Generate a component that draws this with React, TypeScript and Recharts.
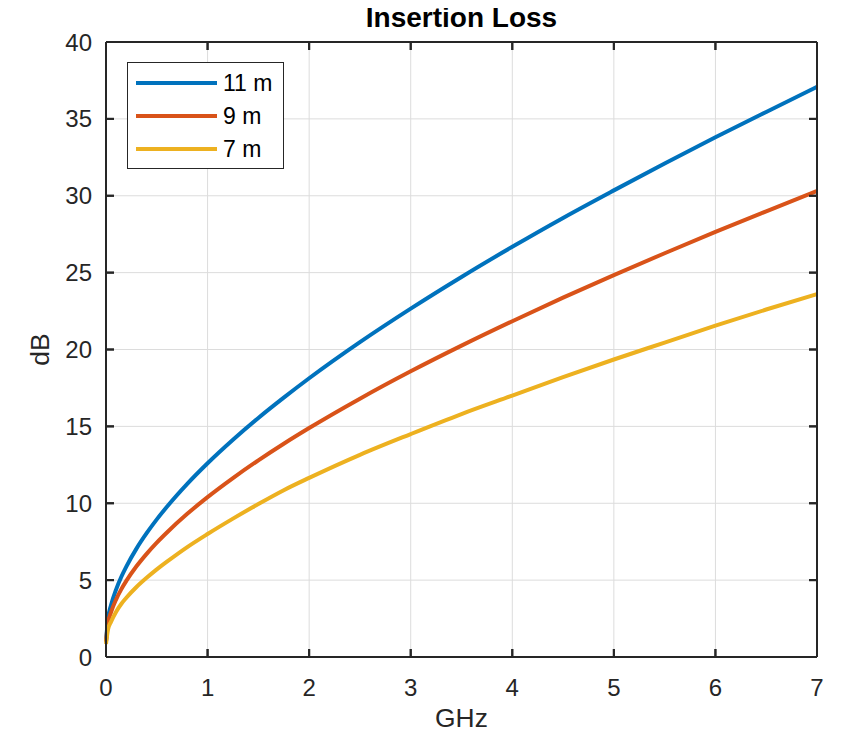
import React from 'react';
import { LineChart, Line, XAxis, YAxis, CartesianGrid, Legend, ReferenceLine } from 'recharts';

const freqGHz = [0, 0.02, 0.05, 0.1, 0.15, 0.2, 0.3, 0.4, 0.5, 0.6, 0.8, 1, 1.25, 1.5, 1.75, 2, 2.5, 3, 3.5, 4, 4.5, 5, 5.5, 6, 6.5, 7];
const loss11m = [1.0, 2.49, 3.38, 4.4, 5.2, 5.88, 7.05, 8.05, 8.95, 9.77, 11.26, 12.6, 14.13, 15.55, 16.87, 18.13, 20.48, 22.66, 24.72, 26.68, 28.56, 30.35, 32.1, 33.8, 35.45, 37.08];
const loss9m = [1.0, 2.21, 2.92, 3.75, 4.4, 4.95, 5.9, 6.71, 7.44, 8.1, 9.31, 10.4, 11.64, 12.79, 13.87, 14.89, 16.8, 18.58, 20.25, 21.84, 23.37, 24.84, 26.26, 27.65, 28.99, 30.31];
const loss7m = [0.85, 1.8, 2.3, 2.95, 3.45, 3.85, 4.55, 5.15, 5.7, 6.2, 7.15, 8.0, 9.0, 9.95, 10.85, 11.65, 13.15, 14.5, 15.8, 17.0, 18.2, 19.35, 20.45, 21.55, 22.6, 23.6];

const seriesNames = ['11 m', '9 m', '7 m'];
const seriesKeys = ['l11', 'l9', 'l7'];
const seriesColors = ['#0072BD', '#D95319', '#EDB120'];
const xTicks = [0, 1, 2, 3, 4, 5, 6, 7];
const yTicks = [0, 5, 10, 15, 20, 25, 30, 35, 40];
const xDomain = [0, 7];
const yDomain = [0, 40];

const data = freqGHz.map((f, i) => ({ f, l11: loss11m[i], l9: loss9m[i], l7: loss7m[i] }));

const AXIS = '#262626';
const FONT = '"Liberation Sans", Arial, Helvetica, sans-serif';

// layout
const CHART_W = 827;
const CHART_H = 726;
const MARGIN = { top: 34, right: 18, bottom: 0, left: 0 };
const X_AXIS_H = 77;
const Y_AXIS_W = 98;
const PLOT_TOP = MARGIN.top;
const PLOT_BOTTOM = CHART_H - MARGIN.bottom - X_AXIS_H;
const PLOT_LEFT = MARGIN.left + Y_AXIS_W;
const PLOT_RIGHT = CHART_W - MARGIN.right;
const TICK_LEN = 8;
const TICK_W = 2;
const X_LABEL_GAP = 22;
const Y_LABEL_GAP = 14;
// tick length expressed in data units, for ReferenceLine segments
const X_TICK_DATA = (TICK_LEN * (xDomain[1] - xDomain[0])) / (PLOT_RIGHT - PLOT_LEFT);
const Y_TICK_DATA = (TICK_LEN * (yDomain[1] - yDomain[0])) / (PLOT_BOTTOM - PLOT_TOP);

const renderLegend = (props: any) => {
  const payload = [...(props.payload || [])]
    .filter((p: any) => seriesNames.indexOf(p.value) >= 0)
    .sort((a: any, b: any) => seriesNames.indexOf(a.value) - seriesNames.indexOf(b.value));
  return (
    <div
      style={{
        position: 'relative',
        width: 157,
        height: 107,
        border: '1px solid ' + AXIS,
        background: '#fff',
        boxSizing: 'border-box',
        fontFamily: FONT,
      }}
    >
      {payload.map((p: any, i: number) => {
        const cy = 20 + i * 33;
        return (
          <React.Fragment key={i}>
            <div
              style={{
                position: 'absolute',
                left: 8,
                top: cy - 2,
                width: 81,
                height: 4,
                background: p.color,
              }}
            />
            <div
              style={{
                position: 'absolute',
                left: 95,
                top: cy - 13,
                height: 26,
                lineHeight: '26px',
                fontSize: 23,
                color: '#000',
                whiteSpace: 'pre',
              }}
            >
              {p.value}
            </div>
          </React.Fragment>
        );
      })}
    </div>
  );
};

const YLabel = (props: any) => {
  const vb = props.viewBox || { x: 0, y: PLOT_TOP, width: Y_AXIS_W, height: PLOT_BOTTOM - PLOT_TOP };
  const cx = 41;
  const cy = vb.y + vb.height / 2;
  return (
    <text
      x={cx}
      y={cy}
      transform={`rotate(-90, ${cx}, ${cy})`}
      textAnchor="middle"
      fill={AXIS}
      fontSize={26.4}
      fontFamily={FONT}
    >
      dB
    </text>
  );
};

const XTick = (props: any) => {
  const x = Number(props.x);
  const y = Number(props.y);
  const v = props.payload ? props.payload.value : '';
  return (
    <g>
      <line x1={x} x2={x} y1={PLOT_BOTTOM} y2={PLOT_BOTTOM - TICK_LEN} stroke={AXIS} strokeWidth={TICK_W} />
      <line x1={x} x2={x} y1={PLOT_TOP} y2={PLOT_TOP + TICK_LEN} stroke={AXIS} strokeWidth={TICK_W} />
      <text x={x} y={y} dy="0.71em" textAnchor="middle" fill={AXIS} fontSize={24} fontFamily={FONT}>
        {v}
      </text>
    </g>
  );
};

const YTick = (props: any) => {
  const x = Number(props.x);
  const y = Number(props.y);
  const v = props.payload ? props.payload.value : '';
  return (
    <g>
      <line x1={PLOT_LEFT} x2={PLOT_LEFT + TICK_LEN} y1={y} y2={y} stroke={AXIS} strokeWidth={TICK_W} />
      <line x1={PLOT_RIGHT} x2={PLOT_RIGHT - TICK_LEN} y1={y} y2={y} stroke={AXIS} strokeWidth={TICK_W} />
      <text x={x} y={y} dy="0.355em" textAnchor="end" fill={AXIS} fontSize={24} fontFamily={FONT}>
        {v}
      </text>
    </g>
  );
};

const emptyTick = () => <g />;
const frameLine = { stroke: AXIS, strokeWidth: 2 };

export default function App() {
  return (
    <div style={{ position: 'relative', width: CHART_W, height: CHART_H, fontFamily: FONT, background: '#fff' }}>
      <div
        style={{
          position: 'absolute',
          left: 253.5,
          width: 400,
          top: -4,
          textAlign: 'center',
          fontSize: 28,
          lineHeight: 1,
          fontWeight: 'bold',
          color: '#000',
          zIndex: 2,
        }}
      >
        Insertion Loss
      </div>
      <LineChart width={CHART_W} height={CHART_H} data={data} margin={MARGIN}>
        <CartesianGrid stroke="#dcdcdc" strokeWidth={1} />
        <XAxis
          dataKey="f"
          type="number"
          domain={xDomain}
          ticks={xTicks}
          interval={0}
          height={X_AXIS_H}
          tickSize={0}
          tickMargin={X_LABEL_GAP}
          axisLine={false}
          tickLine={false}
          tick={XTick}
          label={{ value: 'GHz', position: 'insideBottom', offset: 7, fill: AXIS, fontSize: 26.4 }}
        />
        <YAxis
          type="number"
          domain={yDomain}
          ticks={yTicks}
          interval={0}
          width={Y_AXIS_W}
          tickSize={0}
          tickMargin={Y_LABEL_GAP}
          axisLine={false}
          tickLine={false}
          tick={YTick}
          label={<YLabel />}
        />
        {/* frame lines */}
        <XAxis xAxisId="b" orientation="bottom" mirror dataKey="f" type="number" domain={xDomain} ticks={xTicks} height={1} tickSize={0} axisLine={frameLine} tickLine={false} tick={emptyTick} />
        <XAxis xAxisId="t" orientation="top" mirror dataKey="f" type="number" domain={xDomain} ticks={xTicks} height={1} tickSize={0} axisLine={frameLine} tickLine={false} tick={emptyTick} />
        <YAxis yAxisId="l" orientation="left" mirror type="number" domain={yDomain} ticks={yTicks} width={1} tickSize={0} axisLine={frameLine} tickLine={false} tick={emptyTick} />
        <YAxis yAxisId="r" orientation="right" mirror type="number" domain={yDomain} ticks={yTicks} width={1} tickSize={0} axisLine={frameLine} tickLine={false} tick={emptyTick} />
        {/* inward tick marks as short segments on the frame */}
        {xTicks.map((t) => (
          <ReferenceLine
            key={'xb' + t}
            segment={[{ x: t, y: yDomain[0] }, { x: t, y: yDomain[0] + Y_TICK_DATA }]}
            stroke={AXIS}
            strokeWidth={TICK_W}
            ifOverflow="visible"
          />
        ))}
        {xTicks.map((t) => (
          <ReferenceLine
            key={'xt' + t}
            segment={[{ x: t, y: yDomain[1] }, { x: t, y: yDomain[1] - Y_TICK_DATA }]}
            stroke={AXIS}
            strokeWidth={TICK_W}
            ifOverflow="visible"
          />
        ))}
        {yTicks.map((t) => (
          <ReferenceLine
            key={'yl' + t}
            segment={[{ x: xDomain[0], y: t }, { x: xDomain[0] + X_TICK_DATA, y: t }]}
            stroke={AXIS}
            strokeWidth={TICK_W}
            ifOverflow="visible"
          />
        ))}
        {yTicks.map((t) => (
          <ReferenceLine
            key={'yr' + t}
            segment={[{ x: xDomain[1], y: t }, { x: xDomain[1] - X_TICK_DATA, y: t }]}
            stroke={AXIS}
            strokeWidth={TICK_W}
            ifOverflow="visible"
          />
        ))}
        {seriesKeys.map((k, i) => (
          <Line
            key={k}
            type="monotone"
            dataKey={k}
            name={seriesNames[i]}
            stroke={seriesColors[i]}
            strokeWidth={4}
            dot={false}
            activeDot={false}
            isAnimationActive={false}
          />
        ))}
        <Legend
          layout="vertical"
          align="center"
          verticalAlign="middle"
          wrapperStyle={{ left: 119, top: 54, width: 157, height: 107 }}
          content={renderLegend}
        />
      </LineChart>
    </div>
  );
}
